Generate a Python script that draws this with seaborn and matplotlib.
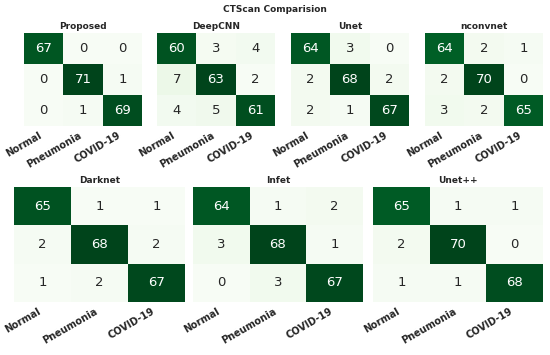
import numpy as np
import pandas as pd
import matplotlib
matplotlib.use("Agg")
import matplotlib.pyplot as plt
import seaborn as sns

classes = ["Normal", "Pneumonia", "COVID-19"]

cm_proposed = [[67, 0, 0], [0, 71, 1], [0, 1, 69]]
cm_deepcnn = [[60, 3, 4], [7, 63, 2], [4, 5, 61]]
cm_unet = [[64, 3, 0], [2, 68, 2], [2, 1, 67]]
cm_nconvnet = [[64, 2, 1], [2, 70, 0], [3, 2, 65]]
cm_darknet = [[65, 1, 1], [2, 68, 2], [1, 2, 67]]
cm_infet = [[64, 1, 2], [3, 68, 1], [0, 3, 67]]
cm_unetpp = [[65, 1, 1], [2, 70, 0], [1, 1, 68]]

models = ["Proposed", "DeepCNN", "Unet", "nconvnet", "Darknet", "Infet", "Unet++"]
matrices = [cm_proposed, cm_deepcnn, cm_unet, cm_nconvnet, cm_darknet, cm_infet, cm_unetpp]

sns.set_style("white")
fig = plt.figure(figsize=(5.5, 3.55), dpi=100)

W, H = 550, 355
# (left, top, width, height) in pixels
top_boxes = [(24, 33, 118, 93), (157, 33, 118, 93), (291, 33, 118, 93), (425, 33, 118, 93)]
bot_boxes = [(14, 187, 171, 115), (193, 187, 170, 115), (373, 187, 170, 115)]
boxes = top_boxes + bot_boxes

for name, cm, (l, t, w, h) in zip(models, matrices, boxes):
    ax = fig.add_axes([l / W, 1 - (t + h) / H, w / W, h / H])
    df = pd.DataFrame(cm, index=classes, columns=classes)
    sns.heatmap(df, annot=True, fmt="d", cmap="Greens", cbar=False, ax=ax,
                annot_kws={"fontsize": 9.5})
    ax.set_title(name, fontsize=6.5, fontweight="bold", pad=3)
    ax.set_yticks([])
    ax.set_xticklabels(classes, rotation=30, ha="right", fontsize=7, fontweight="bold")
    ax.tick_params(axis="x", length=2, width=0.5, pad=1)
    ax.set_xlabel("")
    ax.set_ylabel("")

fig.suptitle("CTScan Comparision", fontsize=6.5, fontweight="bold", x=0.5, y=0.985)

plt.savefig("out.png", dpi=100)
